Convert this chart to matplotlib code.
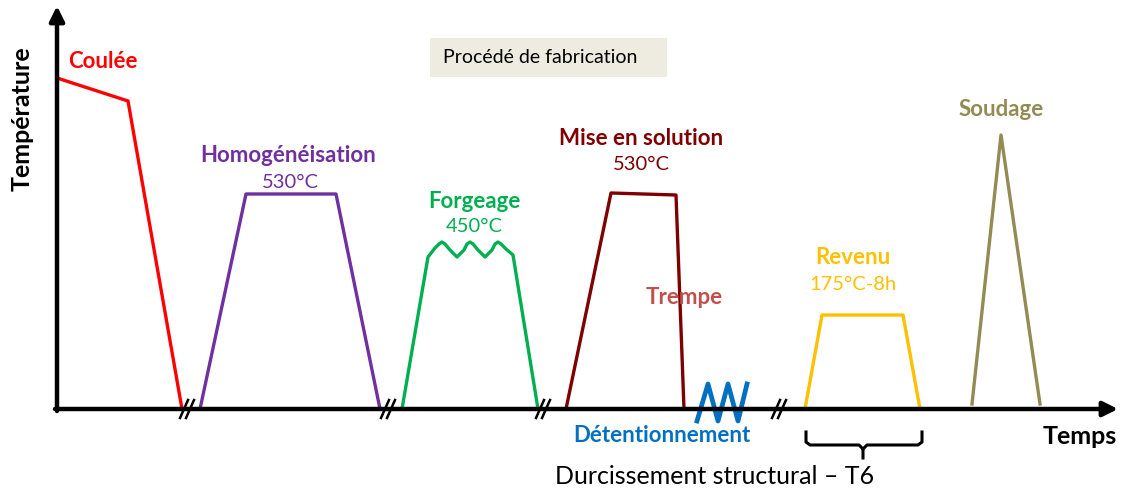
import matplotlib.pyplot as plt
from matplotlib.patches import Rectangle

plt.rcParams['font.family'] = ['Lato', 'DejaVu Sans']

# schematic time / temperature profiles (x = time, y = temperature above the time axis)
coulee_t = [57, 128, 182]
coulee_T = [331, 308, 0]
homog_t = [200, 246, 336, 380]
homog_T = [0, 215, 215, 0]
forge_t = [402, 428, 435, 439, 442, 445, 450, 457, 464, 467, 470, 473, 478, 485, 492, 495, 498, 501, 506, 513, 538]
forge_T = [0, 152, 161, 165, 167, 165, 159, 152, 159, 165, 167, 165, 159, 152, 159, 165, 167, 165, 160, 154, 0]
solution_t = [566, 611, 676, 684]
solution_T = [0, 216, 214, 0]
detente_t = [697, 708, 718, 728, 738, 747]
detente_T = [-12, 25, -12, 25, -12, 25]
revenu_t = [805, 822, 903, 920]
revenu_T = [0, 94, 94, 0]
soudage_t = [972, 1001, 1040]
soudage_T = [5, 274, 5]
breaks_t = [187, 388, 543, 779]

red = '#FF0000'
purple = '#7030A0'
green = '#00B050'
darkred = '#7F0000'
rose = '#C0504D'
blue = '#0070C0'
gold = '#FFC000'
olive = '#948A54'

fig = plt.figure(figsize=(11.24, 4.91), dpi=100)
ax = fig.add_axes([0, 0, 1, 1])
ax.set_xlim(0, 1124)
ax.set_ylim(-82, 409)
ax.axis('off')

# axes arrows
ax.annotate('', xy=(1118, 0), xytext=(55, 0),
            arrowprops=dict(arrowstyle='-|>', lw=3.2, color='black', mutation_scale=22, shrinkA=0, shrinkB=0))
ax.annotate('', xy=(57, 403), xytext=(57, -2),
            arrowprops=dict(arrowstyle='-|>', lw=3.2, color='black', mutation_scale=22, shrinkA=0, shrinkB=0))

lw = 2.4
ax.plot(coulee_t, coulee_T, color=red, lw=lw, solid_joinstyle='miter')
ax.plot(homog_t, homog_T, color=purple, lw=lw)
ax.plot(forge_t, forge_T, color=green, lw=lw, solid_joinstyle='round')
ax.plot(solution_t, solution_T, color=darkred, lw=lw)
ax.plot(detente_t, detente_T, color=blue, lw=3.4)
ax.plot(revenu_t, revenu_T, color=gold, lw=lw)
ax.plot(soudage_t, soudage_T, color=olive, lw=lw)

# time breaks
for b in breaks_t:
    for dx in (-3, 3):
        ax.plot([b + dx - 4, b + dx + 4], [-9, 9], color='black', lw=1.8)

# bracket under revenu
ax.plot([806, 806, 810, 859, 863, 863], [-23, -33, -36, -36, -40, -49], color='black', lw=2.2,
        solid_joinstyle='round')
ax.plot([922, 922, 918, 867, 863], [-23, -33, -36, -36, -40], color='black', lw=2.2,
        solid_joinstyle='round')

# labels
bold = dict(fontweight='bold', ha='center', va='center', fontsize=16)
reg = dict(ha='center', va='center', fontsize=14.5)
ax.text(103, 348, 'Coulée', color=red, **bold)
ax.text(288, 254, 'Homogénéisation', color=purple, **bold)
ax.text(290, 226, '530°C', color=purple, **reg)
ax.text(474, 208, 'Forgeage', color=green, **bold)
ax.text(474, 182, '450°C', color=green, **reg)
ax.text(641, 271, 'Mise en solution', color=darkred, **bold)
ax.text(641, 244, '530°C', color=darkred, **reg)
ax.text(684, 112, 'Trempe', color=rose, **bold)
ax.text(662, -26, 'Détentionnement', color=blue, **bold)
ax.text(853, 152, 'Revenu', color=gold, **bold)
ax.text(853, 125, '175°C-8h', color=gold, **reg)
ax.text(1001, 300, 'Soudage', color=olive, **bold)
ax.text(1080, -28, 'Temps', color='black', fontweight='bold', ha='center', va='center', fontsize=18)
ax.text(22, 290, 'Température', color='black', rotation=90, fontweight='bold', ha='center',
        va='center', fontsize=18)
ax.text(715, -68, 'Durcissement structural – T6', color='black', ha='center', va='center', fontsize=18)

ax.add_patch(Rectangle((430, 332), 237, 39, fc='#EEECE1', ec='none'))
ax.text(443, 352, 'Procédé de fabrication', color='black', ha='left', va='center', fontsize=14)

fig.savefig('out.png', dpi=100)
